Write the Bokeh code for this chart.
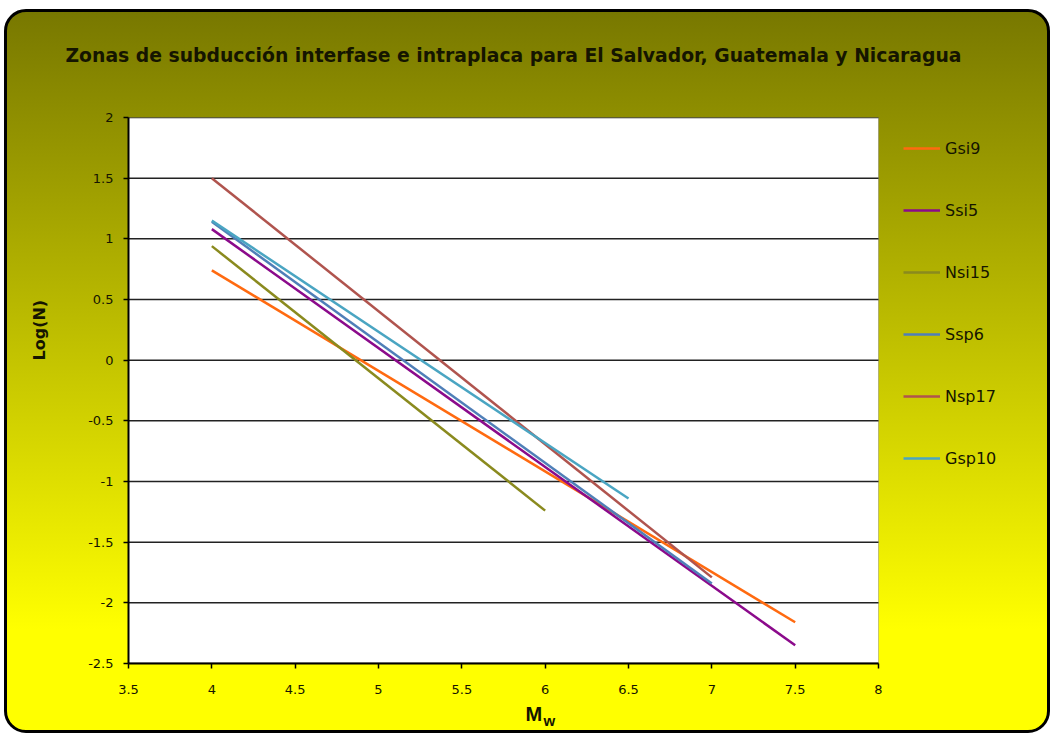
from bokeh.plotting import figure
from bokeh.models import (Range1d, FixedTicker, Legend, LegendItem, Title,
                          BoxAnnotation)
from bokeh.embed import file_html
from bokeh.resources import INLINE

# ---- data ----
series = ["Gsi9", "Ssi5", "Nsi15", "Ssp6", "Nsp17", "Gsp10"]
colors = ["#FF6A10", "#8B0A8B", "#8A8A1E", "#4F7FB8", "#B0544E", "#4AA5C2"]
mw_start = [4.0, 4.0, 4.0, 4.0, 4.0, 4.0]
mw_end = [7.5, 7.5, 6.0, 7.0, 7.0, 6.5]
logn_start = [0.74, 1.08, 0.94, 1.14, 1.50, 1.15]
logn_end = [-2.16, -2.35, -1.24, -1.84, -1.79, -1.14]

x_ticks = [3.5, 4, 4.5, 5, 5.5, 6, 6.5, 7, 7.5, 8]
x_tick_labels = ["3.5", "4", "4.5", "5", "5.5", "6", "6.5", "7", "7.5", "8"]
y_ticks = [-2.5, -2, -1.5, -1, -0.5, 0, 0.5, 1, 1.5, 2]
y_tick_labels = ["-2.5", "-2", "-1.5", "-1", "-0.5", "0", "0.5", "1", "1.5", "2"]

title_text = "Zonas de subducción interfase e intraplaca para El Salvador, Guatemala y Nicaragua"
y_title = "Log(N)"
x_title_main, x_title_sub = "M", "w"

# ---- layout geometry ----
W, H = 1046, 724
BL, BR, BT, BB = 121, 0, 105, 73          # borders around the frame
PLOT_W = 750                               # width (px) of the 3.5..8 plot area
x0, x1 = x_ticks[0], x_ticks[-1]
frame_w = W - BL - BR
x_end = x0 + frame_w * (x1 - x0) / PLOT_W  # frame continues right for the legend

TXT = "#151500"
p = figure(width=W, height=H, output_backend="svg", toolbar_location=None,
           x_range=Range1d(x0, x_end), y_range=Range1d(y_ticks[0], y_ticks[-1]),
           min_border_left=BL, min_border_right=BR,
           min_border_top=BT, min_border_bottom=BB,
           styles={"background": "linear-gradient(to bottom, #787800 0%, #ffff00 86%, #ffff00 100%)",
                   "border": "3px solid black", "border-radius": "22px",
                   "margin-left": "4px", "margin-top": "9px"})
p.border_fill_alpha = 0
p.background_fill_alpha = 0
p.outline_line_color = None
p.title.text = ""
p.title.standoff = 0

# white plot area
p.add_layout(BoxAnnotation(left=x0, right=x1, fill_color="white", fill_alpha=1,
                           line_color="#444444", line_width=1, level="underlay"))

# chart title (spacer + title in the top panel)
p.add_layout(Title(text=" ", text_font_size="2px", standoff=48), "above")
p.add_layout(Title(text=title_text, align="left", offset=-63, standoff=0,
                   vertical_align="bottom",
                   text_font="DejaVu Sans", text_font_style="bold",
                   text_font_size="18.8px", text_color=TXT), "above")

# axes
for ax in (p.xaxis[0], p.yaxis[0]):
    ax.axis_line_color = "black"
    ax.axis_line_width = 2
    ax.major_tick_line_color = "black"
    ax.major_tick_line_width = 1.5
    ax.major_tick_out = 5
    ax.major_tick_in = 0
    ax.minor_tick_line_color = None
    ax.major_label_text_font = "DejaVu Sans"
    ax.major_label_text_font_size = "13px"
    ax.major_label_text_color = TXT
p.xaxis.bounds = (x0, x1)
p.xaxis.ticker = FixedTicker(ticks=x_ticks)
p.yaxis.ticker = FixedTicker(ticks=y_ticks)
p.xaxis.major_label_overrides = {t: s for t, s in zip(x_ticks, x_tick_labels)}
p.yaxis.major_label_overrides = {t: s for t, s in zip(y_ticks, y_tick_labels)}
p.xaxis.major_label_standoff = 16
p.yaxis.major_label_standoff = 10

# y axis title (spacer + vertical title in the left panel)
p.add_layout(Title(text=" ", text_font_size="2px", standoff=33), "left")
p.add_layout(Title(text=y_title, align="left", offset=303, standoff=0,
                   vertical_align="bottom",
                   text_font="DejaVu Sans", text_font_style="bold",
                   text_font_size="16px", text_color=TXT), "left")

# x axis title: M with subscript w
p.add_layout(Title(text=x_title_main, align="left", offset=397, standoff=12,
                   vertical_align="top",
                   text_font="Liberation Sans", text_font_style="bold",
                   text_font_size="20px", text_color=TXT), "below")
p.add_layout(Title(text=x_title_sub, align="left", offset=415, standoff=-42,
                   vertical_align="top",
                   text_font="Liberation Sans", text_font_style="bold",
                   text_font_size="15px", text_color=TXT), "below")

p.xgrid.grid_line_color = None
p.ygrid.grid_line_color = None
# horizontal grid lines across the plot area only, one per y tick
p.segment(x0=[x0] * len(y_ticks), y0=y_ticks, x1=[x1] * len(y_ticks), y1=y_ticks,
          line_color="#222222", line_width=1.5)

items = []
for name, c, xa, xb, ya, yb in zip(series, colors, mw_start, mw_end, logn_start, logn_end):
    r = p.line([xa, xb], [ya, yb], line_color=c, line_width=2.5)
    items.append(LegendItem(label=name, renderers=[r]))

legend = Legend(items=items, location=(775, 195), orientation="vertical",
                background_fill_alpha=0, border_line_color=None,
                glyph_width=37, glyph_height=20, label_height=20,
                spacing=42, padding=0, margin=0, label_standoff=5,
                label_text_font="DejaVu Sans", label_text_font_size="16px",
                label_text_color=TXT)
p.add_layout(legend, "center")

open("out.html", "w").write(file_html(p, INLINE))
